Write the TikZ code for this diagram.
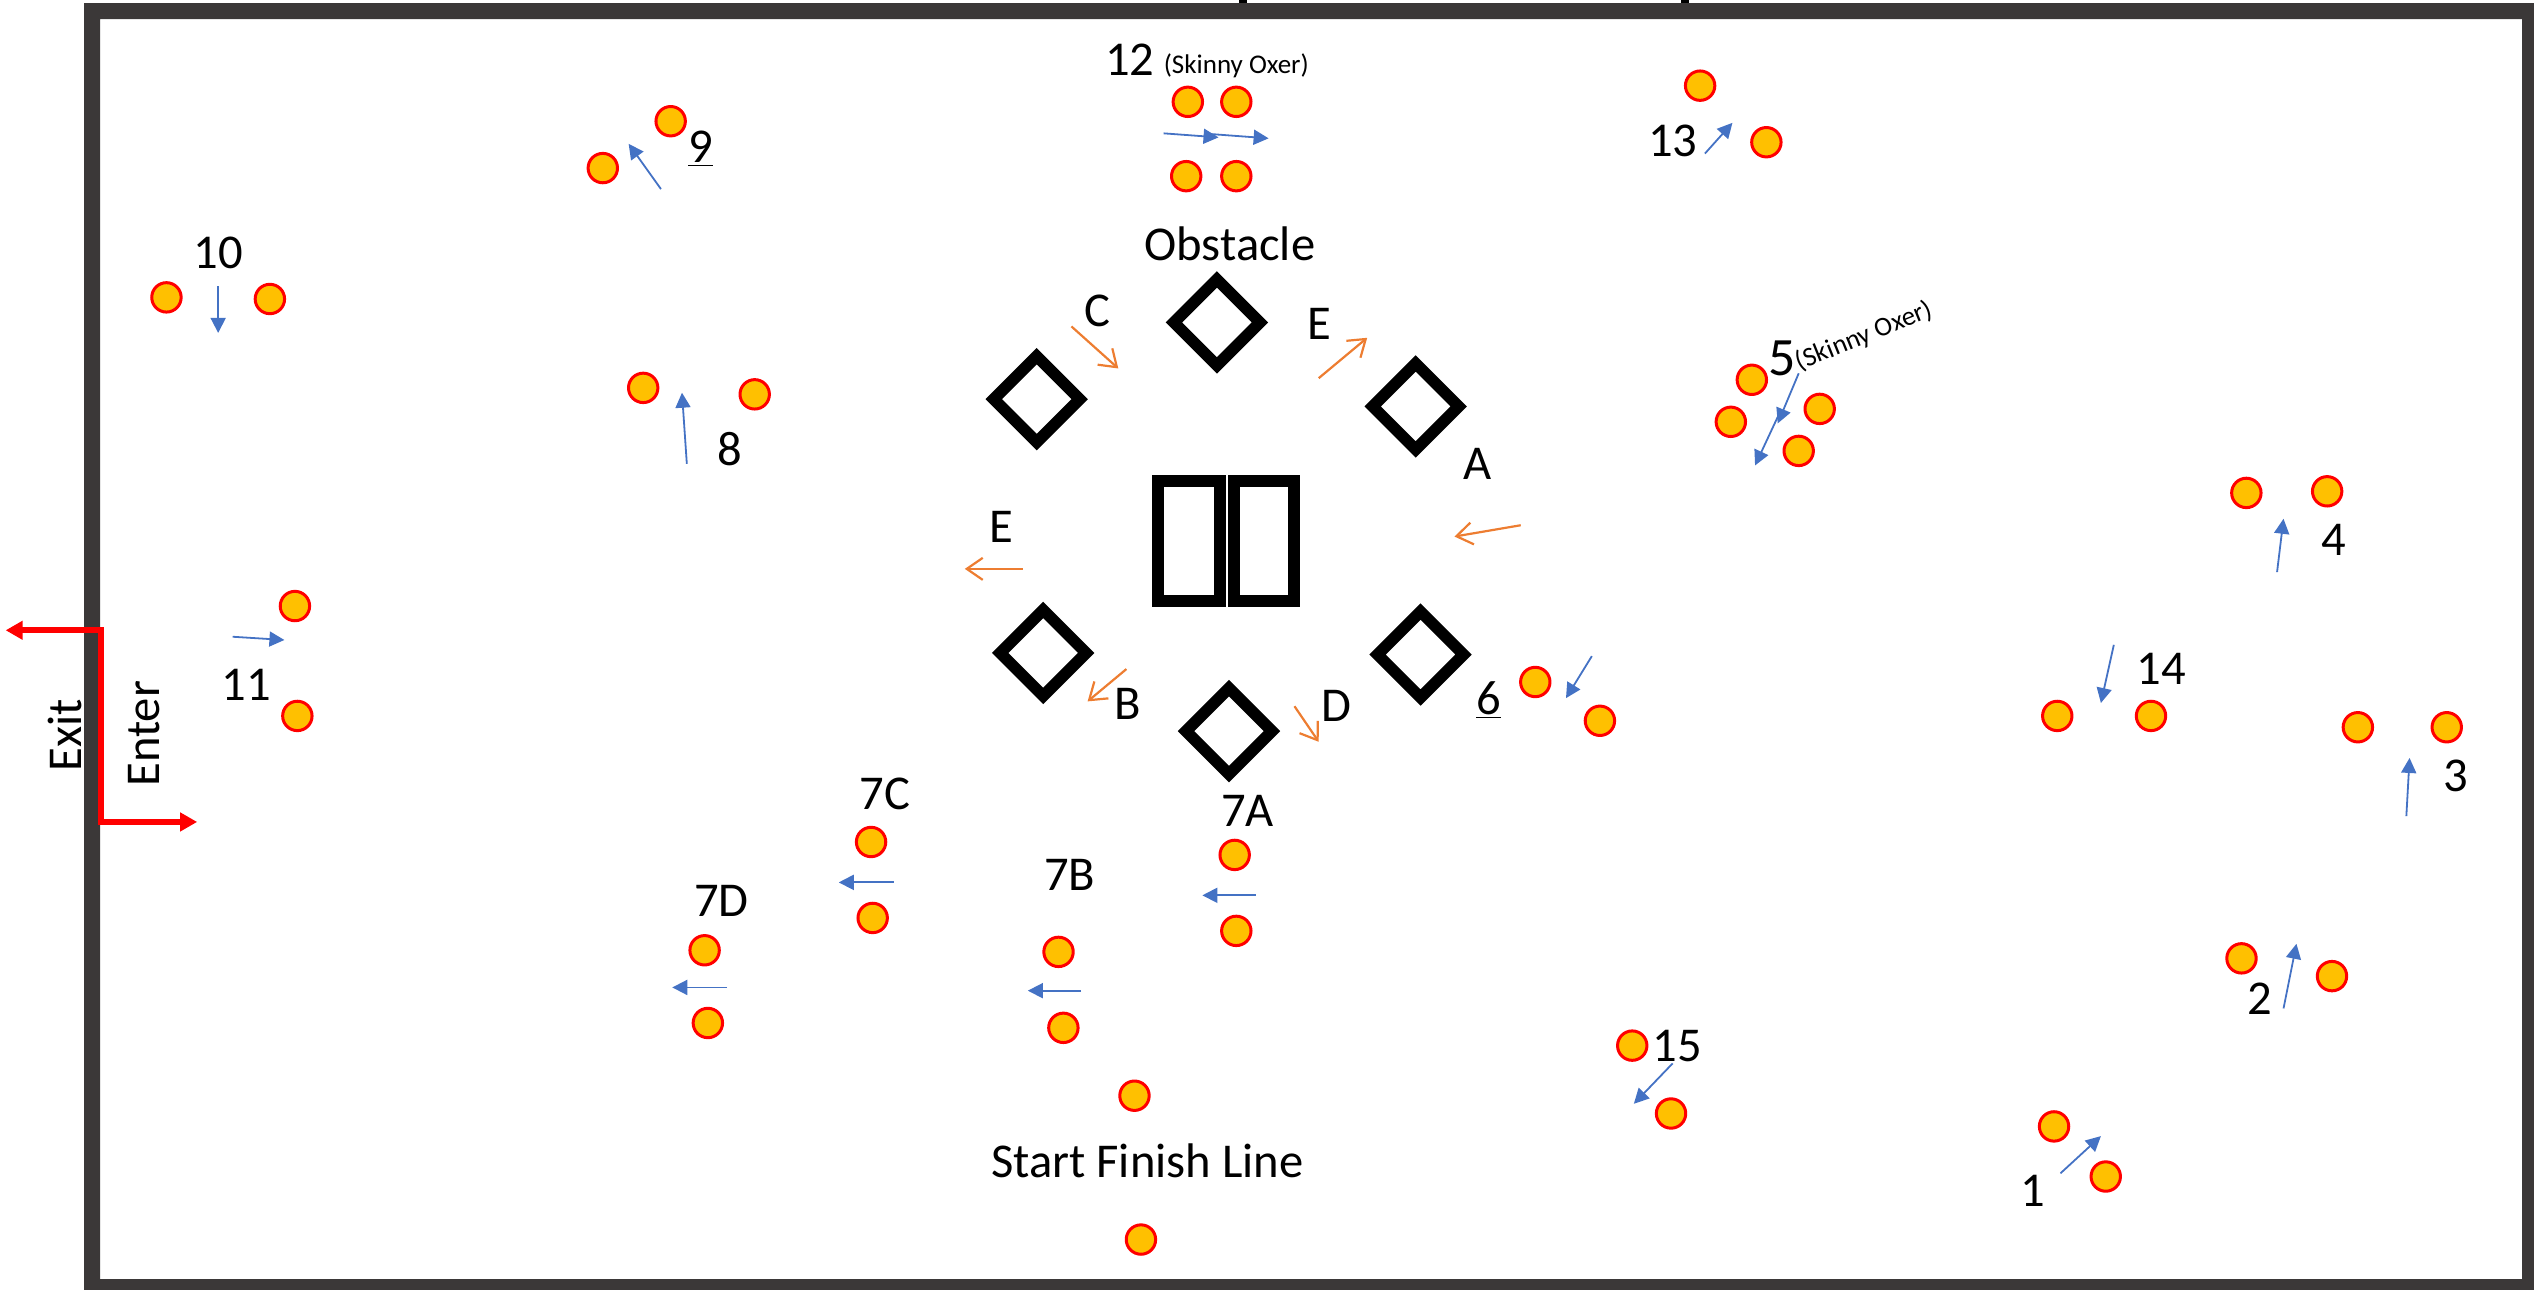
\documentclass[tikz,border=0pt]{standalone}
\usepackage{fontspec}
\setmainfont{Carlito}
\usetikzlibrary{arrows.meta}
\definecolor{wallc}{HTML}{3B3838}
\definecolor{polec}{HTML}{FFC000}
\definecolor{bluec}{HTML}{4472C4}
\definecolor{orangec}{HTML}{ED7D31}
\tikzset{
  pole/.style={circle,draw=red,fill=polec,line width=1.5pt,minimum size=14.7pt,inner sep=0pt},
  obst/.style={draw=black,line width=5.8pt,miter limit=10,line join=miter},
  board/.style={draw=black,line width=6pt,fill=white},
  bluearrow/.style={draw=bluec,line width=0.9pt,-{Triangle[length=7.5pt,width=7.5pt]}},
  orangearrow/.style={draw=orangec,line width=1.1pt,-{Straight Barb[length=8pt,width=11pt,line width=1.1pt]}},
  redarrow/.style={draw=red,line width=3pt,{Triangle[length=8.5pt,width=9pt]}-{Triangle[length=8.5pt,width=9pt]}},
  lab/.style={inner sep=0pt,font=\fontsize{24.3}{26}\selectfont},
  big/.style={inner sep=0pt,font=\fontsize{27}{30}\selectfont},
  small/.style={inner sep=0pt,font=\fontsize{13.5}{15}\selectfont},
}
\newcommand{\arrowpair}[4]{\coordinate (#1s) at (#3);\coordinate (#1e) at (#4);\draw[#2] (#1s) -- (#1e);}
\newcommand{\pp}[2]{\node[pole] (#1) at (#2) {};}
\newcommand{\diam}[2]{\draw[obst] (#2)++(0,-26.6) coordinate (#1n) -- ++(26.6,26.6) -- ++(-26.6,26.6) -- ++(-26.6,-26.6) -- cycle;}
\begin{document}
\begin{tikzpicture}[x=0.808pt,y=-0.808pt]
\useasboundingbox (0,0) rectangle (1568,798.2);
\fill[black] (766.7,0) rectangle (771.6,1.9);
\fill[black] (1040,0) rectangle (1045,1.9);
\fill[wallc,even odd rule] (52,1.9) rectangle (1568,798.2) (62,11.8) rectangle (1560.7,791.5);
% obstacles
\draw[board] (716.5,297.7) rectangle (755,371.8);
\draw[board] (763.7,297.7) rectangle (800.9,371.8);
\diam{d1}{753,199.5}
\diam{d2}{641.5,247}
\diam{d3}{876,251.5}
\diam{d4}{645.5,404}
\diam{d5}{879,405}
\diam{d6}{760.5,452.4}
% poles
\pp{a1}{735,63}\pp{a2}{765,63}\pp{a3}{734,109}\pp{a4}{765,109}
\pp{b1}{1052,53}\pp{b2}{1093,88}
\pp{c1}{415,75}\pp{c2}{373,104}
\pp{e1}{103,184}\pp{e2}{167,185}
\pp{f1}{398,240}\pp{f2}{467,244}
\pp{g1}{1084,235}\pp{g2}{1126,253}\pp{g3}{1071,261}\pp{g4}{1113,279}
\pp{h1}{1390,305}\pp{h2}{1440,304}
\pp{i1}{182.5,375}\pp{i2}{184,443}
\pp{j1}{950,422}\pp{j2}{990,446}
\pp{k1}{1273,443}\pp{k2}{1331,443}
\pp{l1}{1459,450}\pp{l2}{1514,450}
\pp{m1}{539,521}\pp{m2}{540,568}
\pp{n1}{764,529}\pp{n2}{765,576}
\pp{o1}{436,588}\pp{o2}{438,633}
\pp{p1}{655,589}\pp{p2}{658,636}
\pp{q1}{1387,593}\pp{q2}{1443,604}
\pp{r1}{1010,647}\pp{r2}{1034,689}
\pp{s1}{1271,697}\pp{s2}{1303,728}
\pp{t1}{702,678}\pp{t2}{706,767}
% blue arrows
\arrowpair{ba}{bluearrow}{720,82.5}{754,85}
\arrowpair{bb}{bluearrow}{750,83}{785,85.6}
\arrowpair{bc}{bluearrow}{1055,95}{1072,76}
\arrowpair{bd}{bluearrow}{409,117}{389,89}
\arrowpair{be}{bluearrow}{135,177}{135,206}
\arrowpair{bf}{bluearrow}{425,287}{422,243}
\arrowpair{bg}{bluearrow}{144,394}{176,396}
\arrowpair{bh}{bluearrow}{1113,231}{1100,262}
\arrowpair{bi}{bluearrow}{1100,258}{1086,288}
\arrowpair{bj}{bluearrow}{985,406}{969,432}
\arrowpair{bk}{bluearrow}{1409,354}{1413,321}
\arrowpair{bl}{bluearrow}{1308,399}{1300,435}
\arrowpair{bm}{bluearrow}{1489,505}{1491,469}
\arrowpair{bn}{bluearrow}{1413,624}{1421,584}
\arrowpair{bo}{bluearrow}{1275,726}{1300,703}
\arrowpair{bp}{bluearrow}{1035,658}{1011,683}
\arrowpair{bq}{bluearrow}{777,554}{744,554}
\arrowpair{br}{bluearrow}{669,613}{636,613}
\arrowpair{bs}{bluearrow}{553,546}{519,546}
\arrowpair{bt}{bluearrow}{450,611}{416,611}
% orange arrows
\arrowpair{oa}{orangearrow}{663,202}{692,228}
\arrowpair{ob}{orangearrow}{816,234}{846,209}
\arrowpair{oc}{orangearrow}{941,325}{900,332}
\arrowpair{od}{orangearrow}{633,352}{597,352}
\arrowpair{oe}{orangearrow}{697,414}{673,434}
\arrowpair{of}{orangearrow}{801,437}{816,459}
% red
\coordinate (exittip) at (3.5,390);
\coordinate (corner1) at (62.5,390);
\coordinate (corner2) at (62.5,508.6);
\coordinate (entertip) at (122,508.6);
\draw[redarrow] (exittip) -- (corner1) -- (corner2) -- (entertip);
% labels
\node[lab] (t12) at (699,37) {12};
\node[small] (t12s) at (765,41) {(Skinny Oxer)};
\node[lab] (t13) at (1035,87) {13};
\node[lab] (tobs) at (761,151) {Obstacle};
\node[lab] (tC) at (679,192.5) {C};
\node[lab] (tE) at (816.5,200.5) {E};
\node[lab] (tA) at (914,287) {A};
\node[lab] (tE2) at (619.5,326) {E};
\node[lab] (tB) at (698,435.5) {B};
\node[lab] (tD) at (827,436.5) {D};
\node[lab] (t6) at (921,433) {\underline{6}};
\node[lab] (t7A) at (772,501.5) {7A};
\node[lab] (t7B) at (662,541.5) {7B};
\node[lab] (t7C) at (547.5,491.5) {7C};
\node[lab] (t7D) at (446.5,557.5) {7D};
\node[lab] (t9) at (433.5,92) {\underline{9}};
\node[lab] (t10) at (135,156.5) {10};
\node[lab] (t8) at (451.5,278) {8};
\node[lab] (t11) at (152.5,424) {11};
\node[big] (t5) at (1102.5,222) {5};
\node[small,rotate=22] (t5s) at (1153.5,208) {(Skinny Oxer)};
\node[lab] (t4) at (1444,334) {4};
\node[lab] (t14) at (1337.5,414) {14};
\node[lab] (t3) at (1519.5,480) {3};
\node[lab] (t2) at (1398.5,618) {2};
\node[lab] (t1) at (1258,737) {1};
\node[lab] (t15) at (1038,647.5) {15};
\node[lab] (tsf) at (710,718.5) {Start Finish Line};
\node[lab,rotate=90] (texit) at (40,455) {Exit};
\node[lab,rotate=90] (tenter) at (89,454) {Enter};
\end{tikzpicture}
\end{document}
